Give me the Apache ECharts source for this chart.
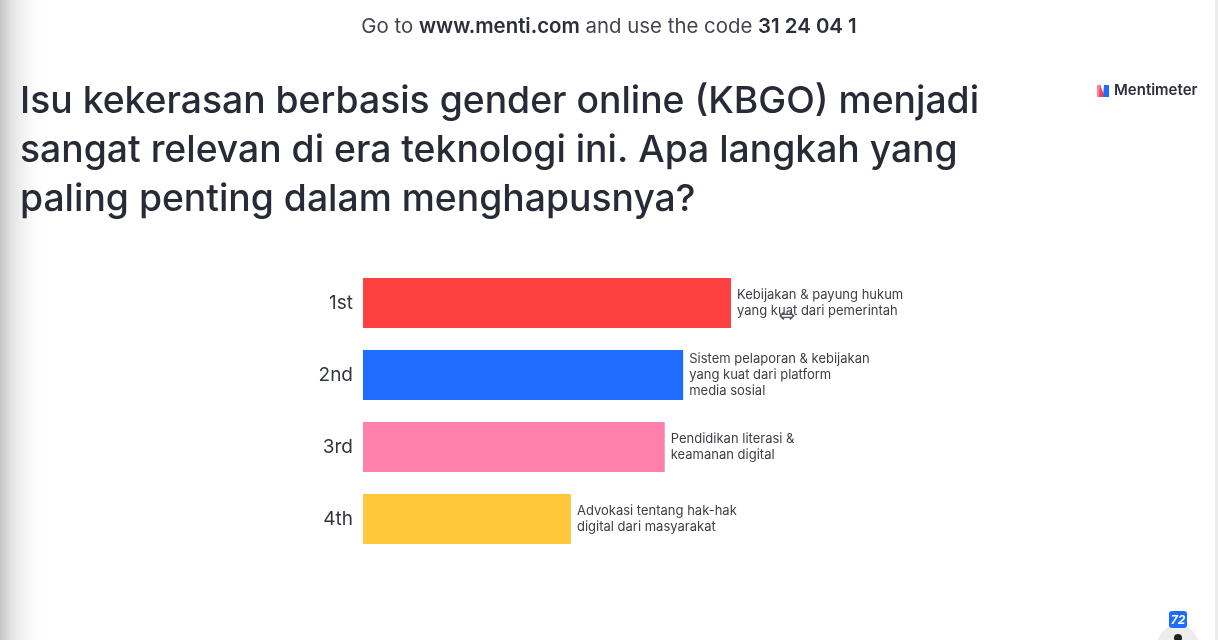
<!DOCTYPE html>
<html>
<head>
<meta charset="utf-8">
<style>html,body{margin:0;padding:0;background:#fff;overflow:hidden}#c{width:1218px;height:640px}</style>
<script src="https://cdn.jsdelivr.net/npm/echarts@6/dist/echarts.min.js"></script>
</head>
<body>
<div id="c"></div>
<script>
// Ranked poll results
const ranks = ['1st', '2nd', '3rd', '4th'];
const scores = [100, 87, 82, 56.5];
const answers = [
  'Kebijakan & payung hukum\nyang kuat dari pemerintah',
  'Sistem pelaporan & kebijakan\nyang kuat dari platform\nmedia sosial',
  'Pendidikan literasi &\nkeamanan digital',
  'Advokasi tentang hak-hak\ndigital dari masyarakat'
];
const barColors = ['#ff4040', '#1f6dff', '#ff80ab', '#ffc83c'];
const headline = 'Isu kekerasan berbasis gender online (KBGO) menjadi\nsangat relevan di era teknologi ini. Apa langkah yang\npaling penting dalam menghapusnya?';
const joinLine = 'Go to {b|www.menti.com} and use the code {b|31 24 04 1}';
const voteCount = '72';

const ink = '#282b36';
const chart = echarts.init(document.getElementById('c'), null, { renderer: 'canvas' });

chart.setOption({
  animation: false,
  backgroundColor: '#ffffff',
  grid: { left: 363, top: 267, width: 368, height: 288, containLabel: false },
  xAxis: { type: 'value', min: 0, max: 100, show: false },
  yAxis: {
    type: 'category',
    data: ranks,
    inverse: true,
    axisLine: { show: false },
    axisTick: { show: false },
    axisLabel: { margin: 10, padding: [3, 0, 0, 0], fontFamily: 'Inter', fontSize: 19, color: '#33363f' }
  },
  series: [{
    type: 'bar',
    barWidth: 50,
    data: scores.map((value, i) => ({
      value,
      itemStyle: { color: barColors[i] },
      label: { formatter: answers[i] }
    })),
    label: {
      show: true,
      position: 'right',
      distance: 6,
      fontFamily: 'Inter',
      fontSize: 13,
      lineHeight: 16,
      align: 'left',
      color: '#3c3e48'
    }
  }],
  graphic: [
    // Soft shadow along the left edge of the slide
    { type: 'rect', z: 5, shape: { x: 0, y: 0, width: 48, height: 640 },
      style: { fill: new echarts.graphic.LinearGradient(0, 0, 1, 0, [
        { offset: 0, color: '#c4c4c4' },
        { offset: 0.25, color: '#e4e4e4' },
        { offset: 1, color: 'rgba(255,255,255,0)' }
      ]) } },
    { type: 'rect', z: 5, shape: { x: 1215, y: 0, width: 3, height: 640 }, style: { fill: '#ececec' } },

    { type: 'text', z: 10, x: 609, y: 27,
      style: { text: joinLine, align: 'center', verticalAlign: 'middle',
        font: '400 20.4px Inter', fill: '#44464f',
        rich: { b: { font: '600 20.4px Inter', fill: '#2c2e38' } } } },

    { type: 'text', z: 10, x: 20, y: 77,
      style: { text: headline, font: '500 37.3px Inter', lineHeight: 49, fill: ink } },

    // Brand mark and wordmark
    { type: 'polygon', z: 10, shape: { points: [[1097, 85], [1101, 85], [1101, 97], [1097, 97]] }, style: { fill: '#ff7fa8' } },
    { type: 'polygon', z: 10, shape: { points: [[1100, 85], [1105, 97], [1099, 97]] }, style: { fill: '#ff4040' } },
    { type: 'polygon', z: 10, shape: { points: [[1104, 85], [1109, 85], [1109, 97], [1103, 97]] }, style: { fill: '#1f6dff' } },
    { type: 'text', z: 10, x: 1114, y: 90,
      style: { text: 'Mentimeter', verticalAlign: 'middle', font: '600 15px Inter', fill: '#2c2f3a' } },

    // Pointer resting over the first answer
    { type: 'text', z: 12, x: 787, y: 317,
      style: { text: '\u21D4', align: 'center', verticalAlign: 'middle', font: '20px "DejaVu Sans"', fill: '#55575f' } },

    // Vote counter and presenter control
    { type: 'circle', z: 10, shape: { cx: 1178, cy: 646, r: 21 }, style: { fill: '#ededed' } },
    { type: 'circle', z: 11, shape: { cx: 1178, cy: 638, r: 4 }, style: { fill: '#222' } },
    { type: 'rect', z: 11, shape: { x: 1169, y: 611, width: 18, height: 17, r: 3 }, style: { fill: '#1f6dff' } },
    { type: 'text', z: 12, x: 1178, y: 620,
      style: { text: voteCount, align: 'center', verticalAlign: 'middle', font: 'italic 700 12px Inter', fill: '#ffffff' } }
  ]
});
</script>
</body>
</html>
